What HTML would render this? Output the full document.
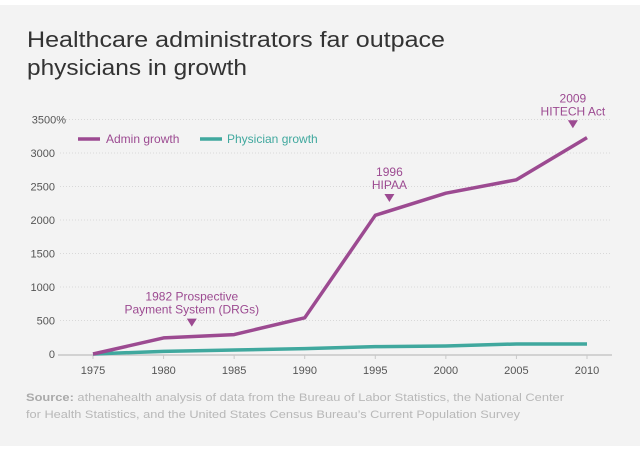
<!DOCTYPE html>
<html><head><meta charset="utf-8"><style>
html,body{margin:0;padding:0;background:#fff;}
svg{display:block;font-family:"Liberation Sans",sans-serif;}
</style></head><body>
<svg width="640" height="473" viewBox="0 0 640 473">
<rect x="0" y="5" width="640" height="441" fill="#f3f3f3"/>
<g fill="#333" font-size="22">
<text x="27" y="47" textLength="418" lengthAdjust="spacingAndGlyphs">Healthcare administrators far outpace</text>
<text x="27" y="75" textLength="220" lengthAdjust="spacingAndGlyphs">physicians in growth</text>
</g>
<g id="grid"></g>
<g id="yticks" font-size="11" fill="#555" text-anchor="end"></g>
<line x1="58" y1="355" x2="612" y2="355" stroke="#c8c8c8" stroke-width="1.5"/>
<g id="xticks" font-size="11" fill="#555" text-anchor="middle"></g>
<g id="series"></g>
<g font-size="12">
<g><line x1="78" y1="139" x2="100" y2="139" stroke="#9c4a91" stroke-width="3.5"/><text x="106" y="143" fill="#9c4a91">Admin growth</text></g>
<g><line x1="200" y1="139" x2="222" y2="139" stroke="#40a89e" stroke-width="3.5"/><text x="227" y="143" fill="#40a89e">Physician growth</text></g>
</g>
<g id="annots" font-size="12" fill="#9c4a91" text-anchor="middle"></g>
<g font-size="11" fill="#b8b8b8">
<text x="26" y="401" textLength="538" lengthAdjust="spacingAndGlyphs"><tspan font-weight="bold" fill="#aaa">Source:</tspan> athenahealth analysis of data from the Bureau of Labor Statistics, the National Center</text>
<text x="26" y="418" textLength="494" lengthAdjust="spacingAndGlyphs">for Health Statistics, and the United States Census Bureau’s Current Population Survey</text>
</g>
</svg>
<script>
const years=[1975,1980,1985,1990,1995,2000,2005,2010];
const adminGrowth=[0,240,290,540,2070,2400,2600,3230];
const physicianGrowth=[0,40,60,80,110,120,150,150];
const yTicks=[0,500,1000,1500,2000,2500,3000,3500];
const yTickLabels=["0","500","1000","1500","2000","2500","3000","3500%"];
const annotationYears=[1982,1996,2009];
const annotationLines=[["1982 Prospective","Payment System (DRGs)"],["1996","HIPAA"],["2009","HITECH Act"]];
const annotationLevels=[290,2150,3250];
const NS="http://www.w3.org/2000/svg";
const xs=y=>93+(y-1975)*(587-93)/35;
const ys=v=>354-v*(354-153)/3000;
function mk(t,a,p){const e=document.createElementNS(NS,t);for(const k in a)e.setAttribute(k,a[k]);p.appendChild(e);return e;}
const grid=document.getElementById('grid'),yt=document.getElementById('yticks'),xt=document.getElementById('xticks'),se=document.getElementById('series'),an=document.getElementById('annots');
yTicks.forEach((v,i)=>{
 if(v>0){const l=mk('line',{x1:60,x2:612,y1:ys(v),y2:ys(v),stroke:'#d8d8d8','stroke-dasharray':'1,2'},grid);
 
 }
 const t=mk('text',{x:i==7?66:55,y:ys(v)+4},yt);t.textContent=yTickLabels[i];
 
 
});
years.forEach(y=>{
 const l=mk('line',{x1:xs(y),x2:xs(y),y1:355,y2:359,stroke:'#c8c8c8'},xt);
 
 
 const t=mk('text',{x:xs(y),y:374},xt);t.textContent=y;
 
 
});
function line(vals,col,name){
 const p=mk('polyline',{points:vals.map((v,i)=>xs(years[i])+','+ys(v)).join(' '),fill:'none',stroke:col,'stroke-width':3.5,'stroke-linejoin':'round'},se);
 
 
}
line(physicianGrowth,'#40a89e','physician-growth-line');
line(adminGrowth,'#9c4a91','admin-growth-line');
annotationYears.forEach((y,i)=>{
 const x=xs(y),yb=ys(annotationLevels[i])-8;
 const g=mk('g',{},an);
 
 
 mk('polygon',{points:`${x-5},${yb-8} ${x+5},${yb-8} ${x},${yb}`},g);
 const L=annotationLines[i];
 L.forEach((s,j)=>{const t=mk('text',{x:x,y:yb-13-(L.length-1-j)*13},g);t.textContent=s;});
});
</script>
</body></html>
